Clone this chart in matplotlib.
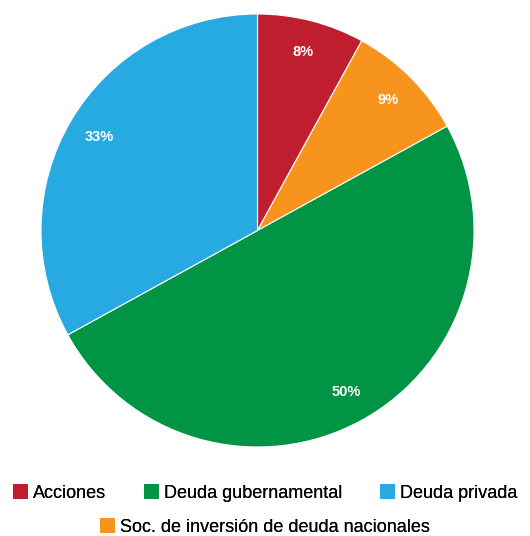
import matplotlib.pyplot as plt
from matplotlib.patches import Patch

plt.rcParams['font.family'] = ['Liberation Sans', 'DejaVu Sans']

# Data (pie order, clockwise from top)
labels = ['Acciones', 'Soc. de inversión de deuda nacionales', 'Deuda gubernamental', 'Deuda privada']
values = [8, 9, 50, 33]
colors = ['#BE1E2D', '#F7941E', '#009444', '#27AAE1']

# legend order
legend_rows = [['Acciones', 'Deuda gubernamental', 'Deuda privada'],
               ['Soc. de inversión de deuda nacionales']]

fig = plt.figure(figsize=(5.30, 5.36), dpi=100)
ax = fig.add_axes([41 / 530, (536 - 447) / 536, 433 / 530, 433 / 536])

wedges, texts, autotexts = ax.pie(
    values, colors=colors, startangle=90, counterclock=False,
    autopct='%d%%', pctdistance=0.85,
    wedgeprops=dict(edgecolor='white', linewidth=0.8),
    textprops=dict(color='white', fontweight='bold', fontsize=10.5))
ax.set_aspect('equal')
ax.set_xlim(-1, 1)
ax.set_ylim(-1, 1)

color_of = dict(zip(labels, colors))
ys = [493, 527]
for row, y in zip(legend_rows, ys):
    handles = [Patch(facecolor=color_of[l], edgecolor='none') for l in row]
    leg = fig.legend(handles, row, loc='center', bbox_to_anchor=(0.5, 1 - y / 536),
                     ncol=len(row), frameon=False, fontsize=13,
                     handlelength=0.85, handleheight=0.85, handletextpad=0.25,
                     columnspacing=2.1, borderaxespad=0, borderpad=0)
    fig.add_artist(leg)

fig.savefig('out.png', dpi=100)
